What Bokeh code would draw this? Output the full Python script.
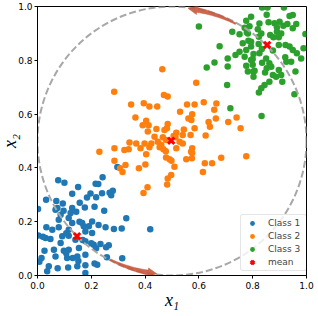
import numpy as np
from bokeh.plotting import figure
from bokeh.models import Range1d, FixedTicker, PrintfTickFormatter, Legend, LegendItem
from bokeh.embed import file_html
from bokeh.resources import INLINE

# ---------------- data ----------------
class1_x = [0.077, 0.100, 0.151, 0.129, 0.197, 0.032, 0.070, 0.157, 0.184, 0.216, 0.074, 0.129, 0.176,
            0.002, 0.086, 0.123, 0.116, 0.079, 0.129, 0.166, 0.203, 0.033, 0.055, 0.079, 0.116, 0.172,
            0.191, 0.003, 0.030, 0.048, 0.092, 0.116, 0.178, 0.203, 0.178, 0.209, 0.061, 0.098, 0.116,
            0.154, 0.067, 0.110, 0.148, 0.178, 0.015, 0.042, 0.114, 0.148, 0.178, 0.036, 0.178, 0.086,
            0.141, 0.226, 0.242, 0.240, 0.268, 0.280, 0.274, 0.218, 0.248, 0.212, 0.330, 0.419, 0.284,
            0.313, 0.253, 0.227, 0.255, 0.315, 0.258, 0.218, 0.234, 0.265, 0.222, 0.097, 0.067, 0.107,
            0.168, 0.200, 0.107, 0.131, 0.212, 0.075, 0.007, 0.026, 0.020, 0.156, 0.144, 0.094, 0.152,
            0.297]
class1_y = [0.354, 0.345, 0.329, 0.304, 0.305, 0.282, 0.277, 0.270, 0.290, 0.341, 0.251, 0.251, 0.253,
            0.247, 0.226, 0.232, 0.214, 0.207, 0.195, 0.195, 0.201, 0.179, 0.170, 0.179, 0.170, 0.183,
            0.183, 0.149, 0.139, 0.136, 0.146, 0.148, 0.164, 0.158, 0.127, 0.114, 0.096, 0.092, 0.096,
            0.102, 0.071, 0.065, 0.071, 0.077, 0.065, 0.034, 0.030, 0.034, 0.038, 0.016, 0.009, 0.121,
            0.133, 0.340, 0.365, 0.306, 0.308, 0.315, 0.298, 0.291, 0.241, 0.256, 0.213, 0.172, 0.173,
            0.175, 0.179, 0.188, 0.105, 0.064, 0.068, 0.101, 0.117, 0.112, 0.040, 0.241, 0.244, 0.157,
            0.132, 0.120, 0.083, 0.065, 0.045, 0.027, 0.051, 0.092, 0.144, 0.200, 0.237, 0.268, 0.054,
            0.403]

class2_x = [0.464, 0.590, 0.285, 0.470, 0.484, 0.348, 0.395, 0.416, 0.445, 0.556, 0.584, 0.618, 0.665,
            0.657, 0.530, 0.575, 0.364, 0.404, 0.391, 0.413, 0.484, 0.481, 0.442, 0.472, 0.561, 0.572,
            0.636, 0.663, 0.641, 0.584, 0.544, 0.410, 0.516, 0.506, 0.540, 0.569, 0.625, 0.435, 0.466,
            0.447, 0.342, 0.367, 0.398, 0.423, 0.528, 0.540, 0.416, 0.454, 0.468, 0.286, 0.323, 0.339,
            0.383, 0.230, 0.516, 0.575, 0.571, 0.404, 0.478, 0.491, 0.553, 0.574, 0.683, 0.286, 0.307,
            0.327, 0.377, 0.401, 0.509, 0.615, 0.497, 0.484, 0.649, 0.709, 0.740, 0.755, 0.776, 0.622,
            0.498, 0.482, 0.477, 0.316, 0.409, 0.394, 0.575, 0.458, 0.478, 0.513, 0.460]
class2_y = [0.767, 0.717, 0.683, 0.671, 0.665, 0.636, 0.640, 0.628, 0.628, 0.636, 0.636, 0.644, 0.639,
            0.616, 0.609, 0.599, 0.587, 0.575, 0.559, 0.559, 0.563, 0.547, 0.545, 0.541, 0.584, 0.578,
            0.571, 0.584, 0.553, 0.547, 0.543, 0.535, 0.531, 0.519, 0.522, 0.522, 0.520, 0.516, 0.514,
            0.497, 0.494, 0.491, 0.491, 0.491, 0.497, 0.491, 0.477, 0.477, 0.469, 0.473, 0.467, 0.469,
            0.473, 0.460, 0.473, 0.473, 0.460, 0.451, 0.439, 0.432, 0.432, 0.436, 0.438, 0.427, 0.399,
            0.411, 0.399, 0.413, 0.404, 0.385, 0.374, 0.361, 0.417, 0.571, 0.587, 0.547, 0.443, 0.417,
            0.427, 0.338, 0.462, 0.385, 0.328, 0.307, 0.455, 0.486, 0.504, 0.514, 0.485]

class3_x = [0.600, 0.677, 0.724, 0.751, 0.770, 0.788, 0.782, 0.794, 0.835, 0.855, 0.916, 0.852, 0.881,
            0.900, 0.914, 0.937, 0.949, 0.929, 0.962, 0.949, 0.825, 0.819, 0.832, 0.865, 0.823, 0.890,
            0.897, 0.906, 0.996, 0.763, 0.794, 0.794, 0.776, 0.751, 0.736, 0.770, 0.825, 0.897, 0.922,
            0.937, 0.949, 0.964, 0.989, 0.875, 0.980, 0.707, 0.707, 0.658, 0.629, 0.794, 0.800, 0.782,
            0.803, 0.835, 0.850, 0.862, 0.869, 0.852, 0.897, 0.925, 0.943, 0.959, 0.875, 0.887, 0.906,
            0.910, 0.862, 0.844, 0.832, 0.823, 0.955, 0.705, 0.717, 0.833, 0.776, 0.859, 0.890, 0.778,
            0.784, 0.822, 0.834, 0.803, 0.800, 0.807, 0.803, 0.846, 0.776, 0.921, 0.877]
class3_y = [0.926, 0.852, 0.906, 0.897, 0.921, 0.927, 0.900, 0.962, 0.996, 0.996, 0.996, 0.969, 0.938,
            0.943, 0.928, 0.965, 0.968, 0.935, 0.935, 0.919, 0.937, 0.915, 0.900, 0.894, 0.888, 0.906,
            0.886, 0.900, 0.898, 0.863, 0.869, 0.851, 0.838, 0.832, 0.820, 0.813, 0.826, 0.857, 0.857,
            0.851, 0.838, 0.826, 0.845, 0.836, 0.807, 0.807, 0.777, 0.792, 0.773, 0.801, 0.783, 0.758,
            0.758, 0.791, 0.807, 0.789, 0.776, 0.770, 0.764, 0.795, 0.795, 0.758, 0.745, 0.739, 0.745,
            0.720, 0.720, 0.708, 0.696, 0.680, 0.674, 0.708, 0.622, 0.593, 0.947, 0.941, 0.923, 0.904,
            0.873, 0.861, 0.842, 0.823, 0.805, 0.761, 0.739, 0.755, 0.780, 0.811, 0.886]

mean_x = [0.147, 0.497, 0.854]
mean_y = [0.146, 0.501, 0.857]

class_labels = ["Class 1", "Class 2", "Class 3"]
mean_label = "mean"
x_label = "x\u2081"
y_label = "x\u2082"
ticks = [0.0, 0.2, 0.4, 0.6, 0.8, 1.0]

circle_center = [0.5, 0.5]
circle_diameter = 1.0

arrow_from_deg = [-117.5, 61.5]
arrow_to_deg = [-96.5, 83.0]
arrow_radius = [0.497, 0.496]

# ---------------- figure ----------------
p = figure(frame_width=269, frame_height=269, output_backend="svg", toolbar_location=None,
           x_range=Range1d(0, 1), y_range=Range1d(0, 1),
           min_border_left=45, min_border_right=10, min_border_top=6, min_border_bottom=30)
# the reference figure starts at the window's left edge: pull the plot over the page margin
p.styles = {"margin-left": "-8px"}
p.grid.visible = False
p.outline_line_color = "black"
p.outline_line_width = 1
p.background_fill_color = "white"
p.border_fill_color = "white"

for ax in (p.xaxis, p.yaxis):
    ax.ticker = FixedTicker(ticks=ticks)
    ax.formatter = PrintfTickFormatter(format="%.1f")
    ax.major_label_text_font = "DejaVu Sans"
    ax.major_label_text_font_size = "9px"
    ax.major_label_text_color = "black"
    ax.major_tick_out = 3
    ax.major_tick_in = 0
    ax.minor_tick_out = 0
    ax.minor_tick_in = 0
    ax.axis_line_color = "black"
    ax.major_tick_line_color = "black"
    ax.axis_label_text_font = "Liberation Serif"
    ax.axis_label_text_font_style = "italic"
    ax.axis_label_text_font_size = "18px"
    ax.axis_label_text_color = "black"
p.xaxis.major_label_standoff = 3
p.yaxis.major_label_standoff = 2
p.xaxis.axis_label = x_label
p.yaxis.axis_label = y_label
p.xaxis.axis_label_standoff = -2
p.yaxis.axis_label_standoff = -5

colors = ["#1f77b4", "#ff7f0e", "#2ca02c"]
r1 = p.scatter(class1_x, class1_y, size=6.5, color=colors[0], line_width=0)
r2 = p.scatter(class2_x, class2_y, size=6.5, color=colors[1], line_width=0)
r3 = p.scatter(class3_x, class3_y, size=6.5, color=colors[2], line_width=0)

p.ellipse(x=[circle_center[0]], y=[circle_center[1]], width=[circle_diameter], height=[circle_diameter],
          fill_alpha=0, line_color="#a8a8a8", line_width=2, line_dash="7 3")


def arrow_poly(a0, a1, r, w0=0.0028, w1=0.009, hw=0.017, hl=0.034):
    a0, a1 = np.radians(a0), np.radians(a1)
    sgn = np.sign(a1 - a0)
    ahb = a1 - sgn * hl / r
    t = np.linspace(0, 1, 40)
    ang = a0 + (ahb - a0) * t
    w = w0 + (w1 - w0) * t
    cx, cy = circle_center
    xo = cx + (r + w) * np.cos(ang)
    yo = cy + (r + w) * np.sin(ang)
    xi = cx + (r - w) * np.cos(ang)
    yi = cy + (r - w) * np.sin(ang)
    hx = [cx + (r + hw) * np.cos(ahb), cx + r * np.cos(a1), cx + (r - hw) * np.cos(ahb)]
    hy = [cy + (r + hw) * np.sin(ahb), cy + r * np.sin(a1), cy + (r - hw) * np.sin(ahb)]
    xs = np.concatenate([xo, hx, xi[::-1]])
    ys = np.concatenate([yo, hy, yi[::-1]])
    return xs, ys


for a0, a1, rr in zip(arrow_from_deg, arrow_to_deg, arrow_radius):
    xs, ys = arrow_poly(a0, a1, rr)
    p.patch(xs, ys, fill_color="#c8573a", fill_alpha=0.9, line_color="#c8573a", line_alpha=0.9, line_width=0.5)

rm = p.scatter(mean_x, mean_y, marker="x", size=9, line_color="#ff0000", line_width=3)

legend = Legend(items=[LegendItem(label=class_labels[0], renderers=[r1]),
                       LegendItem(label=class_labels[1], renderers=[r2]),
                       LegendItem(label=class_labels[2], renderers=[r3]),
                       LegendItem(label=mean_label, renderers=[rm])],
                location=(203, 4))
legend.label_text_font = "DejaVu Sans"
legend.label_text_font_size = "9px"
legend.glyph_width = 18
legend.glyph_height = 12
legend.label_height = 12
legend.label_width = 36
legend.spacing = 1
legend.padding = 2
legend.margin = 0
legend.label_standoff = 7
legend.border_line_color = "#cccccc"
legend.border_line_width = 1
legend.background_fill_alpha = 0.8
legend.border_radius = 3
p.add_layout(legend)

open("out.html", "w").write(file_html(p, INLINE))
